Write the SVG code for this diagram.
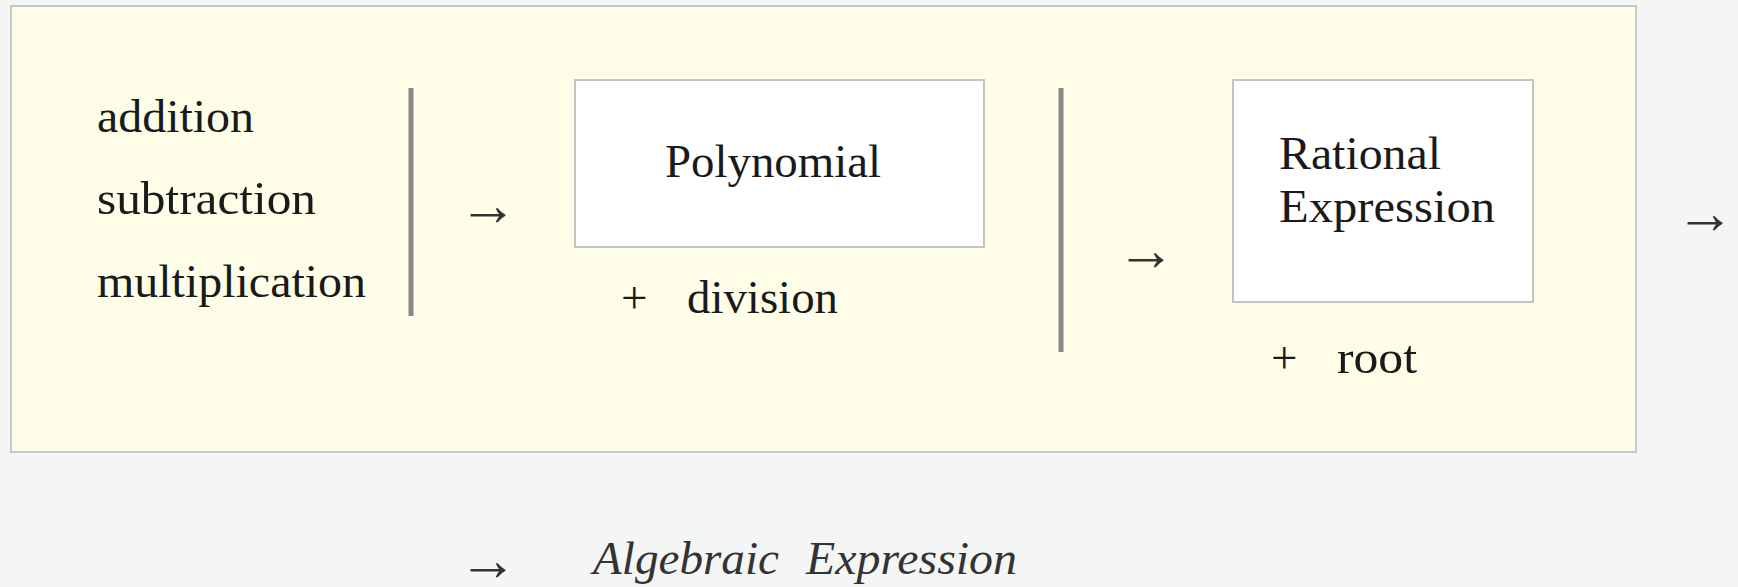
<svg xmlns="http://www.w3.org/2000/svg" width="1738" height="587" viewBox="0 0 1738 587">
<style>
.t{font-family:"Liberation Serif",serif;font-size:47px;fill:#1a1a1a}
.arr{font-family:"Liberation Serif",serif;font-size:59px;fill:#333;text-anchor:middle}
.box{fill:#fff;stroke:#c4c4c4;stroke-width:2}
.bar{stroke:#888;stroke-width:5}
.it{font-family:"Liberation Serif",serif;font-style:italic;font-size:47px;fill:#333}
</style>
<rect width="1738" height="587" fill="#f4f6f5"/>
<g id="frame"><rect x="11" y="6" width="1625" height="446" fill="#fefee8" stroke="#c8c8c8" stroke-width="2"/></g>
<g id="ops">
<text class="t" x="97" y="132" textLength="157" lengthAdjust="spacingAndGlyphs">addition</text>
<text class="t" x="97" y="214" textLength="219" lengthAdjust="spacingAndGlyphs">subtraction</text>
<text class="t" x="97" y="297" textLength="269" lengthAdjust="spacingAndGlyphs">multiplication</text>
</g>
<g id="polynomial">
<rect class="box" x="575" y="80" width="409" height="167"/>
<text class="t" x="665" y="177" textLength="216" lengthAdjust="spacingAndGlyphs">Polynomial</text>
</g>
<g id="division"><text class="t" x="621" y="313">+</text><text class="t" x="687" y="313" textLength="151" lengthAdjust="spacingAndGlyphs">division</text></g>
<g id="rational">
<rect class="box" x="1233" y="80" width="300" height="222"/>
<text class="t" x="1279" y="169" textLength="162" lengthAdjust="spacingAndGlyphs">Rational</text>
<text class="t" x="1279" y="222" textLength="216" lengthAdjust="spacingAndGlyphs">Expression</text>
</g>
<g id="root"><text class="t" x="1271" y="373">+</text><text class="t" x="1337" y="373" textLength="80" lengthAdjust="spacingAndGlyphs">root</text></g>
<g id="algebraic"><text class="it" y="574"><tspan x="593" textLength="186" lengthAdjust="spacingAndGlyphs">Algebraic</tspan><tspan x="806" textLength="211" lengthAdjust="spacingAndGlyphs">Expression</tspan></text></g>
<g id="connectors">
<line class="bar" x1="411" y1="88" x2="411" y2="316"/>
<line class="bar" x1="1061" y1="88" x2="1061" y2="352"/>
<text class="arr" x="488" y="225">→</text>
<text class="arr" x="1146" y="270">→</text>
<text class="arr" x="1705" y="233">→</text>
<text class="arr" x="488" y="580">→</text>
</g>
</svg>
